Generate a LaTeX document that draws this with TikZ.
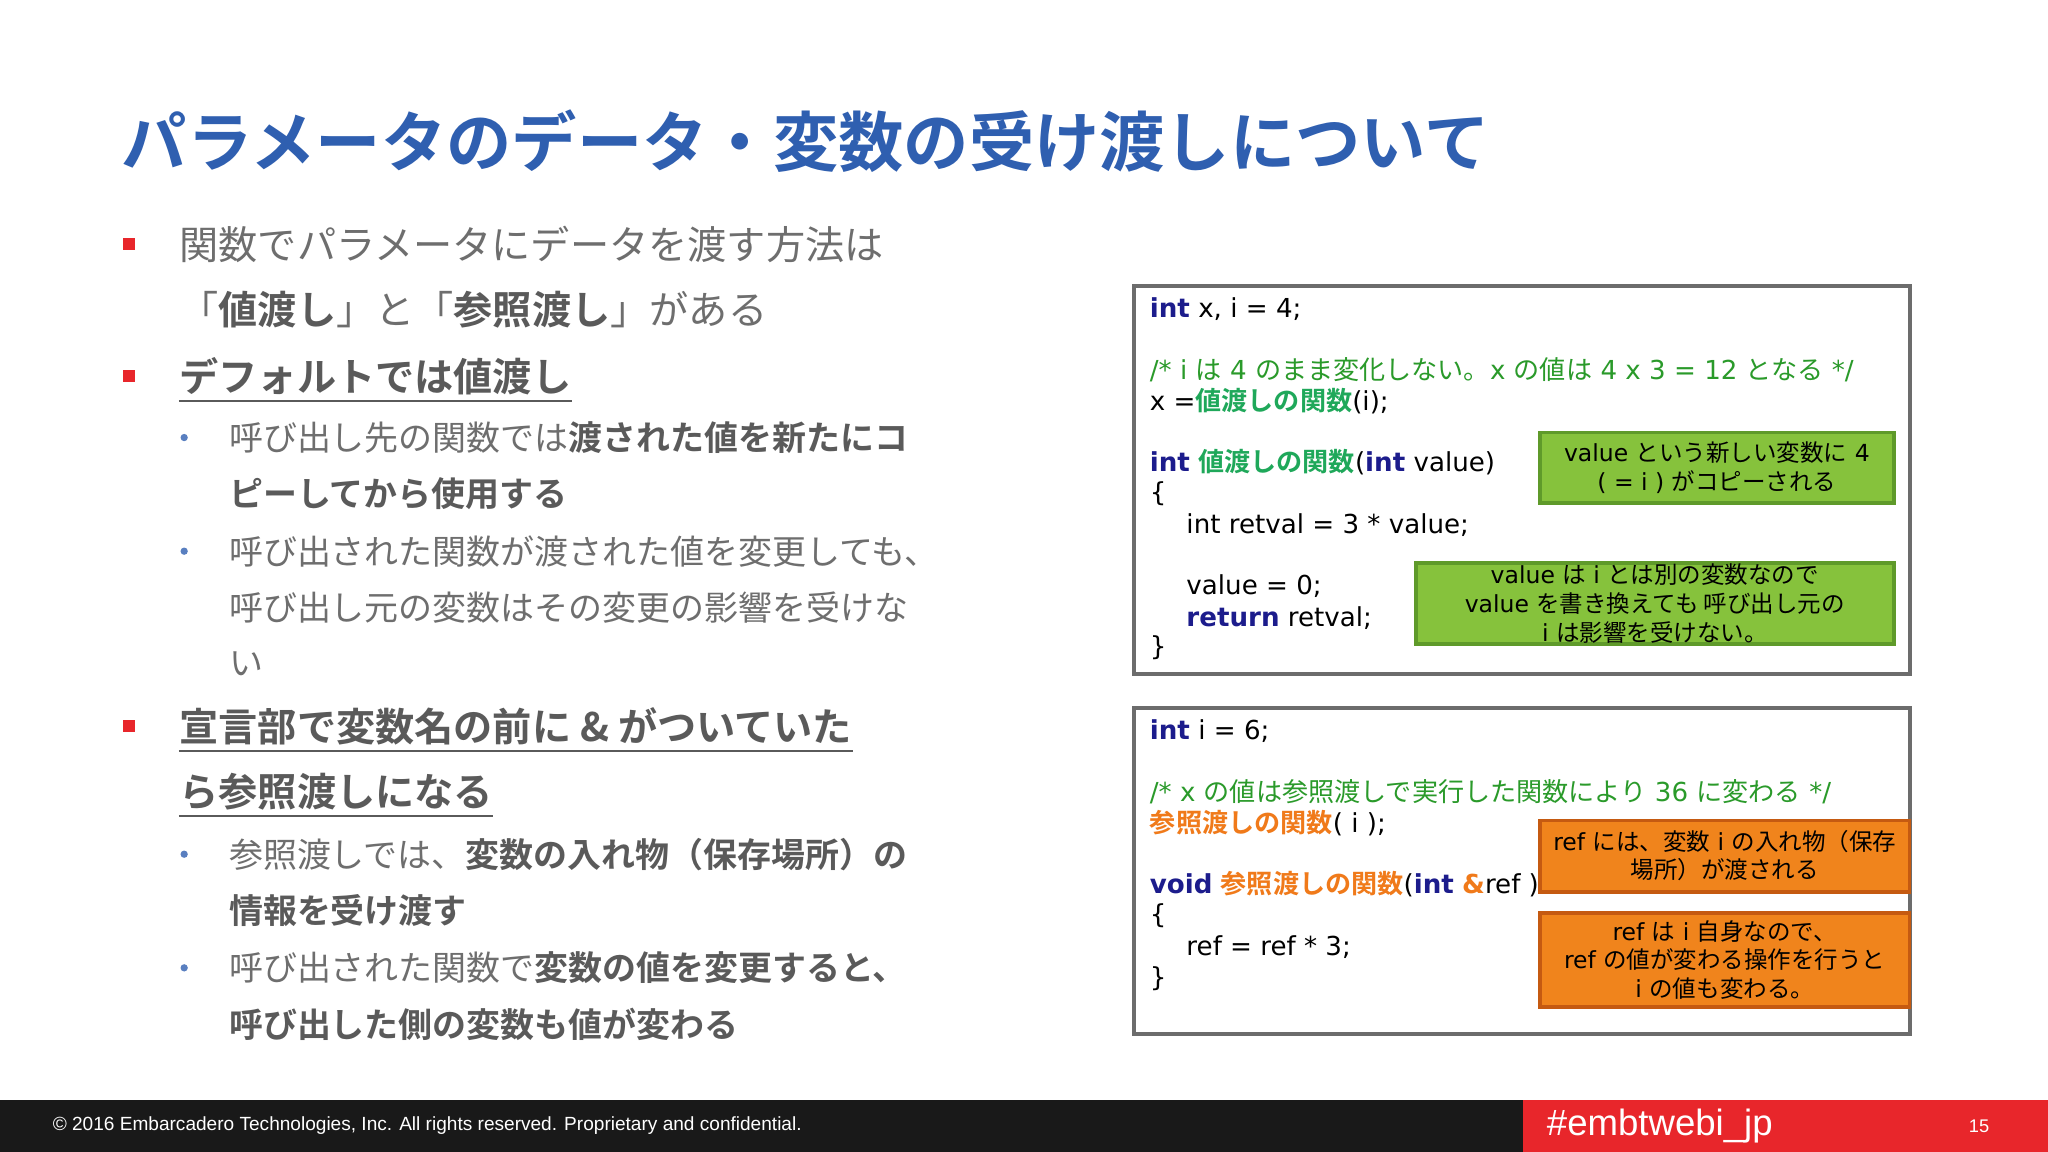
\documentclass[tikz,border=0pt]{standalone}
\usepackage{fontspec}
\setmainfont{Noto Sans CJK JP}
\newfontfamily\cj{Noto Sans CJK JP}
\newfontfamily\cjb{Noto Sans CJK JP Bold}
\newfontfamily\vd{DejaVu Sans}
\newfontfamily\lib{Liberation Sans}
\definecolor{ttl}{HTML}{2F5FB0}
\definecolor{body}{HTML}{6E6E6E}
\definecolor{dark}{HTML}{5A5A5A}
\definecolor{kw}{HTML}{1C1C8C}
\definecolor{cm}{HTML}{2A9A2A}
\definecolor{gf}{HTML}{1FA85A}
\definecolor{og}{HTML}{F07A1A}
\definecolor{gfill}{HTML}{86C23C}
\definecolor{gline}{HTML}{5F9A2A}
\definecolor{ofill}{HTML}{F0841C}
\definecolor{oline}{HTML}{C55A11}
\definecolor{bred}{HTML}{E8262B}
\newcommand{\K}[1]{{\color{kw}\bfseries #1}}
\newcommand{\J}[1]{{\cj #1}}
\newcommand{\B}[1]{{\cjb\color{dark}#1}}
\tikzset{
 lvl1/.style={anchor=west,inner sep=0pt,font=\cj\fontsize{15}{18}\selectfont,text=body},
 lvl2/.style={anchor=west,inner sep=0pt,font=\cj\fontsize{13}{16}\selectfont,text=body},
 code/.style={anchor=west,inner sep=0pt,font=\vd\fontsize{10}{12}\selectfont},
 codebox/.style={draw=gray!85!black,line width=1.5pt,fill=white},
 gbox/.style={draw=gline,line width=1.3pt,fill=gfill},
 obox/.style={draw=oline,line width=1.3pt,fill=ofill},
 note/.style={align=center,font=\vd\fontsize{9}{11}\selectfont,inner sep=0pt},
 sq/.style={fill=bred,minimum size=4.5pt,inner sep=0pt},
 dot/.style={circle,fill=ttl!80,minimum size=2.8pt,inner sep=0pt},
}
\begin{document}
\begin{tikzpicture}[x=0.5pt,y=-0.5pt]
\useasboundingbox (0,0) rectangle (1568,882);
\fill[white] (0,0) rectangle (1568,882);
% title
\node[anchor=west,inner sep=0pt,text=ttl,font=\cjb\fontsize{25}{28}\selectfont] (title) at (93,108) {パラメータのデータ・変数の受け渡しについて};
% bullets
\node[sq] (s1) at (99,187) {};
\node[lvl1] (t1) at (137,187) {関数でパラメータにデータを渡す方法は};
\node[lvl1] (t2) at (137,237) {「\B{値渡し}」と「\B{参照渡し}」がある};
\node[sq] (s2) at (99,288) {};
\node[lvl1,font=\cjb\fontsize{15}{18}\selectfont,text=dark] (h1) at (137,288) {デフォルトでは値渡し};
\draw[dark,line width=0.8pt] ([yshift=-2pt]h1.south west) -- ([yshift=-2pt]h1.south east);
\node[dot] (d1) at (141,335) {};
\node[lvl2] (u1) at (175,335) {呼び出し先の関数では\B{渡された値を新たにコ}};
\node[lvl2] (u2) at (175,378) {\B{ピーしてから使用する}};
\node[dot] (d2) at (141,422) {};
\node[lvl2] (u3) at (175,422) {呼び出された関数が渡された値を変更しても、};
\node[lvl2] (u4) at (175,465) {呼び出し元の変数はその変更の影響を受けな};
\node[lvl2] (u5) at (175,508) {い};
\node[sq] (s3) at (99,556) {};
\node[lvl1,font=\cjb\fontsize{15}{18}\selectfont,text=dark] (h2) at (137,556) {宣言部で変数名の前に \& がついていた};
\draw[dark,line width=0.8pt] ([yshift=-2pt]h2.south west) -- ([yshift=-2pt]h2.south east);
\node[lvl1,font=\cjb\fontsize{15}{18}\selectfont,text=dark] (h3) at (137,606) {ら参照渡しになる};
\draw[dark,line width=0.8pt] ([yshift=-2pt]h3.south west) -- ([yshift=-2pt]h3.south east);
\node[dot] (d3) at (141,654) {};
\node[lvl2] (u6) at (175,654) {参照渡しでは、\B{変数の入れ物（保存場所）の}};
\node[lvl2] (u7) at (175,697) {\B{情報を受け渡す}};
\node[dot] (d4) at (141,741) {};
\node[lvl2] (u8) at (175,741) {呼び出された関数で\B{変数の値を変更すると、}};
\node[lvl2] (u9) at (175,784) {\B{呼び出した側の変数も値が変わる}};
% code box 1
\draw[codebox] (868,219) rectangle (1462,516);
\node[code] (c1) at (880,237) {\K{int} x, i = 4;};
\node[code,text=cm] (c2) at (880,283) {/* i \J{は} 4 \J{のまま変化しない。}x \J{の値は} 4 x 3 = 12 \J{となる} */};
\node[code] (c3) at (880,307) {x =\textcolor{gf}{\cjb 値渡しの関数}(i);};
\node[code] (c4) at (880,354) {\K{int} \textcolor{gf}{\cjb 値渡しの関数}(\K{int} value)};
\node[code] (c5) at (880,378) {\{};
\node[code] (c6) at (908,402) {int retval = 3 * value;};
\node[code] (c7) at (908,449) {value = 0;};
\node[code] (c8) at (908,473) {\K{return} retval;};
\node[code] (c9) at (880,496) {\}};
\draw[gbox] (1179,331) rectangle (1450,385);
\node[note] (n1) at (1314.5,358) {value \J{という新しい変数に} 4\\( = i ) \J{がコピーされる}};
\draw[gbox] (1084,431) rectangle (1450,493);
\node[note] (n2) at (1267,462) {value \J{は} i \J{とは別の変数なので}\\value \J{を書き換えても 呼び出し元の}\\i \J{は影響を受けない。}};
% code box 2
\draw[codebox] (868,542) rectangle (1462,792);
\node[code] (e1) at (880,560) {\K{int} i = 6;};
\node[code,text=cm] (e2) at (880,606) {/* x \J{の値は参照渡しで実行した関数により} 36 \J{に変わる} */};
\node[code] (e3) at (880,630) {\textcolor{og}{\cjb 参照渡しの関数}( i );};
\node[code] (e4) at (880,677) {\K{void} \textcolor{og}{\cjb 参照渡しの関数}(\K{int} \textcolor{og}{\bfseries\&}ref )};
\node[code] (e5) at (880,701) {\{};
\node[code] (e6) at (908,725) {ref = ref * 3;};
\node[code] (e7) at (880,749) {\}};
\draw[obox] (1179,628) rectangle (1462,683);
\node[note] (o1) at (1320.5,655) {ref \J{には、変数} i \J{の入れ物（保存}\\\J{場所）が渡される}};
\draw[obox] (1179,699) rectangle (1462,771);
\node[note] (o2) at (1320.5,735) {ref \J{は} i \J{自身なので、}\\ref \J{の値が変わる操作を行うと}\\i \J{の値も変わる。}};
% footer
\fill[black!90] (0,842) rectangle (1568,882);
\fill[bred] (1166,842) rectangle (1568,882);
\node[anchor=west,inner sep=0pt,text=white,font=\lib\fontsize{7.3}{9}\selectfont] (copy) at (40,862) {© 2016 Embarcadero Technologies, Inc. All rights reserved. Proprietary and confidential.};
\node[anchor=west,inner sep=0pt,text=white,font=\lib\fontsize{14}{16}\selectfont] (tag) at (1184,862) {\#embtwebi\_jp};
\node[anchor=west,inner sep=0pt,text=white,font=\lib\fontsize{7}{9}\selectfont] (pg) at (1507,862) {15};
\end{tikzpicture}
\end{document}
